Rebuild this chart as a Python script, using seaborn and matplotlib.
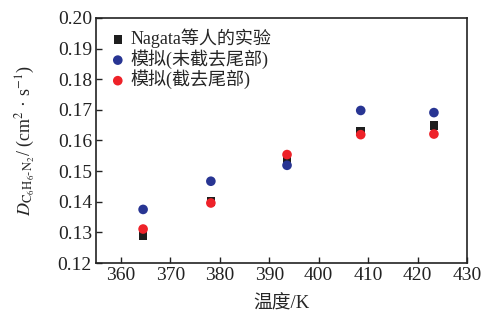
import numpy as np
import pandas as pd
import matplotlib
matplotlib.use("Agg")
import matplotlib.pyplot as plt
import seaborn as sns

# data
temp = [364.5, 378.2, 393.6, 408.5, 423.3]
exp_nagata = [0.129, 0.140, 0.1537, 0.163, 0.1648]
sim_full = [0.1375, 0.1467, 0.1519, 0.1698, 0.1691]
sim_cut = [0.1311, 0.1396, 0.1554, 0.1619, 0.1621]

labels = ["Nagata等人的实验", "模拟(未截去尾部)", "模拟(截去尾部)"]

sns.set_theme(style="ticks")
plt.rcParams["font.family"] = ["Liberation Serif", "Noto Sans CJK SC"]
plt.rcParams["mathtext.fontset"] = "stix"
plt.rcParams["xtick.direction"] = "in"
plt.rcParams["ytick.direction"] = "in"

fig = plt.figure(figsize=(4.83, 3.2), dpi=100)
ax = fig.add_axes([0.199, 0.178, 0.768, 0.766])

df_exp = pd.DataFrame({"T": temp, "D": exp_nagata})
df_full = pd.DataFrame({"T": temp, "D": sim_full})
df_cut = pd.DataFrame({"T": temp, "D": sim_cut})

sns.scatterplot(data=df_exp, x="T", y="D", ax=ax, marker="s", color="#1e1e1e",
                s=38, edgecolor="none", label=labels[0])
sns.scatterplot(data=df_full, x="T", y="D", ax=ax, marker="o", color="#283593",
                s=48, edgecolor="none", label=labels[1])
sns.scatterplot(data=df_cut, x="T", y="D", ax=ax, marker="o", color="#ee2229",
                s=48, edgecolor="none", label=labels[2])

ax.set_xlim(355, 430)
ax.set_ylim(0.12, 0.20)
ax.set_xticks(np.arange(360, 431, 10))
ax.set_yticks(np.arange(0.12, 0.201, 0.01))
ax.set_yticklabels([f"{v:.2f}" for v in np.arange(0.12, 0.201, 0.01)])
ax.tick_params(labelsize=14, length=4, width=1, colors="#222222", pad=3)
for sp in ax.spines.values():
    sp.set_linewidth(1.2)
    sp.set_color("#222222")

ax.set_xlabel("温度/K", fontsize=13.5, labelpad=8)
ax.set_ylabel(r"$D_{\mathrm{C_6H_6\text{-}N_2}}$/ (cm$^2$ · s$^{-1}$)", fontsize=13, labelpad=15)

leg = ax.legend(loc="upper left", frameon=False, fontsize=13, handletextpad=0.1,
                labelspacing=0.05, borderaxespad=0.4, handlelength=1.2,
                borderpad=0.2)

fig.savefig("out.png", dpi=100)
